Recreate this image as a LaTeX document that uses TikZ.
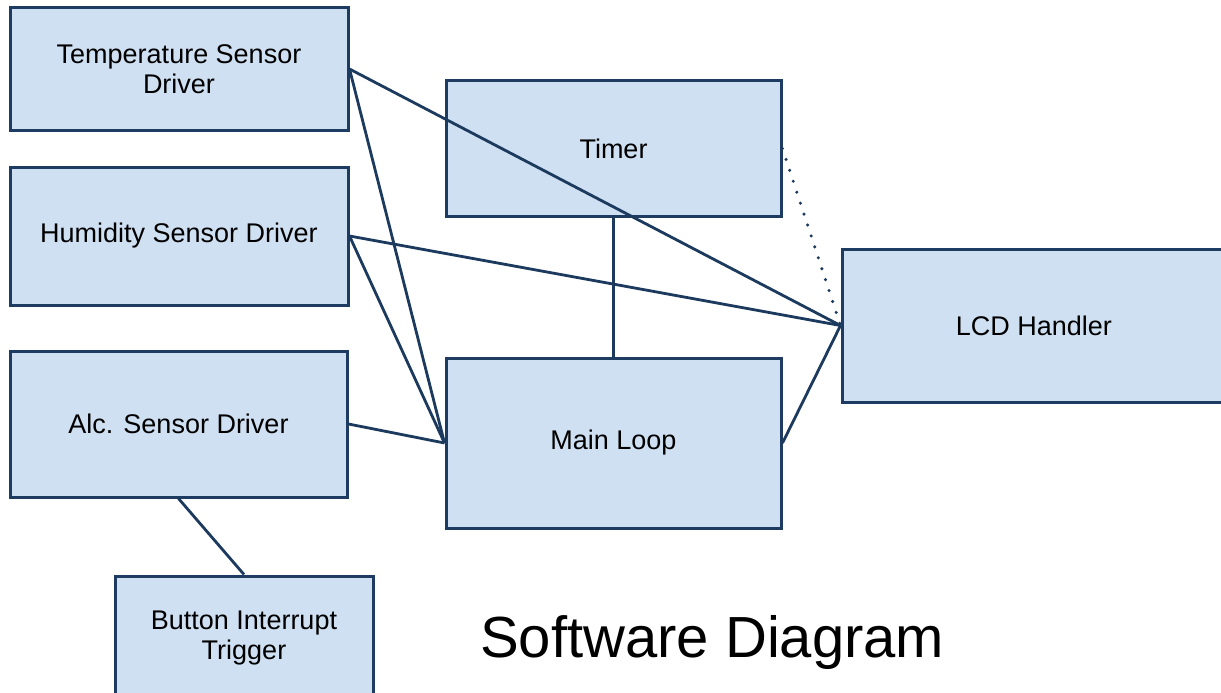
\documentclass[tikz,border=0pt]{standalone}
\usepackage{fontspec}
\setmainfont{Liberation Sans}
\definecolor{boxfill}{HTML}{CFE0F2}
\definecolor{boxline}{HTML}{1E3C62}
\definecolor{wire}{HTML}{1C3A5E}
\tikzset{
  block/.style={draw=boxline, fill=boxfill, line width=3pt, rectangle, inner sep=0pt,
    align=center, font=\fontsize{27}{30}\selectfont, text=black},
  wireline/.style={draw=wire, line width=2.8pt},
  dotwire/.style={draw=wire, line width=3.4pt, line cap=round, dash pattern=on 0pt off 11.5pt},
}
\begin{document}
\begin{tikzpicture}[x=1pt, y=-1pt]
\clip (0,0) rectangle (1221,693);
\fill[white] (0,0) rectangle (1221,693);

\node[block, minimum width=338pt, minimum height=122pt] (temp) at (179,69) {Temperature Sensor\\Driver};
\node[block, minimum width=338pt, minimum height=138pt] (hum) at (179,236) {Humidity Sensor Driver};
\node[block, minimum width=337pt, minimum height=146pt] (alc) at (178.5,424) {Alc. Sensor Driver};
\node[block, minimum width=258pt, minimum height=124pt] (btn) at (244,638) {Button Interrupt\\Trigger};
\node[block, minimum width=335pt, minimum height=135pt] (timer) at (613.5,148.5) {Timer};
\node[block, minimum width=335pt, minimum height=170pt] (main) at (613.5,443) {Main Loop};
\node[block, minimum width=384pt, minimum height=153pt] (lcd) at (1034,325.5) {LCD Handler};

\node[font=\fontsize{58}{64}\selectfont, anchor=base west, inner sep=0pt] (title) at (480,657) {Software Diagram};

\draw[wireline] (temp.east) -- (lcd.west);
\draw[wireline] (temp.east) -- (main.west);
\draw[wireline] (hum.east) -- (lcd.west);
\draw[wireline] (hum.east) -- (main.west);
\draw[wireline] (alc.east) -- (main.west);
\draw[wireline] (timer.south) -- (main.north);
\draw[wireline] (main.east) -- (lcd.west);
\draw[dotwire] (timer.east) -- (lcd.west);
\draw[wireline] (alc.south) -- (btn.north);
\end{tikzpicture}
\end{document}
